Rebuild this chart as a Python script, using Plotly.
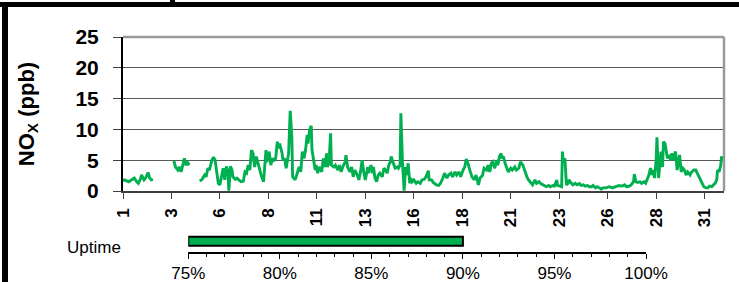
import plotly.graph_objects as go

# ---------------- data ----------------
# hour of month (0 = day 1 00:00) and NOx (ppb); None marks missing data
hours = [0, 2, 7, 11, 14, 17, 19, 22, 23, 26, 28, 31, 33, 35, 37, 38,
         63, 65, 68, 70, 72, 74, 76, 78, 80, 82, 83,
         95, 98, 101, 103, 105, 107, 110, 112, 114, 116, 118, 120, 122, 124, 126, 128, 130, 131,
         133, 135, 136, 139, 141, 144, 146, 149, 151, 153, 155, 157, 159, 161, 163, 165, 167,
         169, 171, 174, 177, 178, 181, 183, 185, 187, 189, 191, 193, 194, 197, 198, 200, 202,
         205, 207, 209, 210, 213, 215, 218, 220, 222, 224, 226, 228, 229, 231, 233, 234, 236,
         238, 239, 241, 243, 246, 248, 250, 252, 253, 255, 257, 258, 261, 263, 266, 268, 270,
         272, 275, 276, 278, 281, 283, 285, 287, 290, 292, 294, 296, 298, 300, 303, 304, 307,
         309, 310, 312, 314, 316, 318, 321, 323, 325, 327, 329, 331, 332, 334, 336, 337, 340,
         341, 343, 344, 346, 347, 348, 350, 351, 353, 355, 356, 358, 360, 363, 365, 368, 370,
         373, 375, 378, 379, 382, 384, 388, 391, 393, 396, 398, 401, 403, 406, 408, 411, 413,
         416, 418, 421, 423, 425, 427, 430, 432, 435, 437, 440, 442, 445, 447, 450, 452, 454,
         456, 458, 460, 463, 464, 466, 468, 469, 471, 473, 475, 477, 480, 482, 485, 487, 490,
         492, 495, 497, 500, 502, 505, 507, 510, 512, 515, 517, 520, 522, 524, 527, 529, 532,
         534, 537, 538, 541, 543, 544, 545, 547, 549, 551, 552, 555, 557, 560, 562, 565, 567,
         570, 572, 575, 577, 580, 582, 585, 587, 590, 592, 594, 598, 602, 606, 610, 614, 618,
         621, 623, 627, 629, 632, 633, 635, 637, 640, 642, 645, 647, 650, 651, 653, 655, 656,
         658, 660, 661, 663, 665, 666, 668, 669, 671, 673, 674, 676, 678, 679, 681, 683, 684,
         686, 688, 689, 691, 693, 695, 697, 699, 702, 704, 707, 709, 712, 714, 717, 719, 722,
         724, 726, 729, 731, 733, 735, 736, 738, 740, 741, 743]

nox = [1.7, 1.8, 1.5, 1.9, 2.1, 1.5, 1.25, 2.1, 2.6, 1.8, 2.1, 3.0, 2.1, 1.8, 1.9, None,
       4.9, 3.9, 3.4, 3.9, 3.1, 4.5, 5.3, 4.2, 4.6, 4.2, None,
       1.6, 1.9, 2.6, 2.3, 3.7, 3.4, 5.0, 5.5, 5.0, 2.9, 1.25, 1.0, 2.3, 3.7, 1.8, 4.0, 3.1, 0.05,
       4.0, 3.4, 2.3, 1.9, 2.1, 1.8, 1.5, 1.6, 3.1, 2.9, 4.2, 3.4, 6.65, 6.1, 3.9, 5.6, 4.5,
       3.4, 2.6, 1.5, 6.65, 4.7, 6.4, 4.2, 5.3, 5.0, 5.3, 8.0, 6.9, 7.7, 6.1, 5.0, 5.3, 3.7,
       6.1, 13.0, 8.8, 2.3, 1.8, 2.6, 3.9, 3.1, 6.4, 5.3, 6.65, 9.1, 7.7, 9.9, 10.6, 6.65, 4.75,
       3.4, 4.2, 2.9, 3.9, 3.1, 5.3, 3.9, 6.1, 3.9, 4.5, 9.35, 4.2, 3.9, 4.2, 3.4, 4.2, 3.1,
       3.9, 4.75, 5.8, 3.9, 3.1, 3.9, 2.3, 3.4, 2.6, 1.8, 3.1, 5.0, 3.1, 1.8, 3.9, 2.9, 4.2,
       2.9, 3.9, 2.1, 1.5, 2.6, 2.9, 2.3, 3.7, 3.4, 2.9, 4.2, 4.75, 5.6, 4.75, 4.2, 3.7, 3.9,
       3.7, 4.2, 12.6, 4.5, 1.25, 0.05, 3.9, 2.6, 4.5, 1.25, 2.1, 1.5, 1.8, 1.25, 1.5, 1.25, 1.8,
       1.9, 2.3, 3.3, 1.8, 1.8, 1.4, 1.0, 0.9, 1.25, 2.1, 2.9, 2.1, 2.6, 2.9, 2.3, 3.1, 2.6,
       3.1, 2.3, 3.4, 3.9, 5.2, 4.5, 3.1, 2.3, 1.8, 2.6, 1.0, 2.1, 2.5, 3.7, 3.4, 4.2, 3.1,
       4.5, 4.75, 3.7, 5.0, 4.2, 5.6, 6.1, 5.3, 5.6, 4.5, 3.9, 3.1, 3.7, 3.4, 3.9, 3.4, 3.7,
       4.75, 4.2, 3.4, 2.3, 1.8, 1.25, 1.0, 1.8, 1.25, 1.5, 1.2, 1.0, 0.9, 0.7, 0.9, 0.7, 0.9,
       0.8, 1.8, 0.9, 0.8, 0.7, 6.4, 4.75, 5.3, 1.0, 1.25, 1.8, 1.25, 1.0, 1.25, 1.0, 1.2, 0.9,
       1.0, 0.8, 0.9, 0.7, 0.7, 0.9, 0.5, 0.7, 0.5, 0.3, 0.5, 0.5, 0.7, 0.5, 0.7, 0.9, 0.8,
       1.0, 0.7, 0.8, 1.0, 1.5, 2.75, 1.5, 1.4, 1.5, 1.25, 1.5, 1.25, 2.1, 2.6, 3.7, 2.6, 3.4,
       2.1, 5.0, 8.7, 2.1, 5.3, 6.4, 3.9, 8.0, 7.7, 6.4, 5.3, 5.85, 5.0, 6.1, 5.0, 6.1, 6.4,
       3.4, 5.3, 5.85, 3.1, 3.7, 3.4, 2.6, 3.1, 2.6, 3.1, 3.4, 3.4, 2.6, 1.8, 1.0, 0.7, 0.5,
       0.5, 0.8, 0.7, 1.0, 1.25, 1.8, 3.4, 3.1, 4.2, 5.6, 4.9]

tick_hours = [0, 60, 120, 180, 240, 300, 360, 420, 480, 540, 600, 660, 720]
tick_labels = ["1", "3", "6", "8", "11", "13", "16", "18", "21", "23", "26", "28", "31"]
y_ticks = [0, 5, 10, 15, 20, 25]

uptime_label = "Uptime"
uptime_pct = 90.0
uptime_axis_start = 75
uptime_axis_end = 100
uptime_ticks = [75, 80, 85, 90, 95, 100]
uptime_tick_labels = ["75%", "80%", "85%", "90%", "95%", "100%"]

# ---------------- layout geometry (pixels) ----------------
W, H = 739, 282
L, R, T, B = 123, 15, 37, 30
PW, PH = W - L - R, H - T - B


def px(x):
    return (x - L) / PW


def py(y):
    return (H - B - y) / PH


GREEN = "#00B050"
FONT = "Arial, Liberation Sans, sans-serif"

fig = go.Figure()

fig.add_trace(go.Scatter(
    x=hours, y=nox, mode="lines", connectgaps=False,
    line=dict(color=GREEN, width=2.9), xaxis="x", yaxis="y",
    showlegend=False, hoverinfo="skip"))

fig.add_trace(go.Bar(
    x=[uptime_pct - uptime_axis_start], base=[uptime_axis_start], y=[0.49],
    orientation="h", width=0.41, xaxis="x2", yaxis="y2",
    marker=dict(color=GREEN, line=dict(color="black", width=2)),
    showlegend=False, hoverinfo="skip"))

main_bottom = py(191)

fig.update_layout(
    width=W, height=H,
    margin=dict(l=L, r=R, t=T, b=B, pad=0, autoexpand=False),
    paper_bgcolor="white", plot_bgcolor="rgba(0,0,0,0)",
    font=dict(family=FONT, color="black"),
    xaxis=dict(
        domain=[0, 1], anchor="y", range=[0, 744], automargin=False,
        tickmode="array", tickvals=tick_hours, ticktext=tick_labels,
        tickangle=-90, tickfont=dict(size=17, weight="bold"),
        ticks="outside", ticklen=6, tickcolor="#404040", tickwidth=1,
        ticklabelstandoff=3,
        showline=True, linecolor="#404040", linewidth=1.5,
        showgrid=False, zeroline=False, fixedrange=True),
    yaxis=dict(
        domain=[main_bottom, 1], anchor="x", range=[0, 25], automargin=False,
        tickmode="array", tickvals=y_ticks,
        tickfont=dict(size=21, weight="bold"),
        ticks="outside", ticklen=8, tickcolor="#404040", tickwidth=1,
        ticklabelstandoff=10,
        showline=True, linecolor="black", linewidth=2,
        showgrid=True, gridcolor="#595959", gridwidth=1,
        zeroline=False,
        title=dict(text="NO<sub>X</sub> (ppb)", font=dict(size=22, weight="bold"),
                   standoff=35)),
    xaxis2=dict(
        domain=[px(188.3), px(646)], anchor="y2", automargin=False,
        range=[uptime_axis_start, uptime_axis_end],
        tickmode="array", tickvals=uptime_ticks, ticktext=uptime_tick_labels,
        tickfont=dict(size=17),
        ticks="outside", ticklen=5, tickcolor="black", tickwidth=1,
        minor=dict(dtick=1, ticks="outside", ticklen=3, tickcolor="black", tickwidth=1),
        ticklabelstandoff=0,
        showline=True, linecolor="black", linewidth=1.5,
        showgrid=False, zeroline=False),
    xaxis3=dict(
        overlaying="x2", anchor="y2", side="bottom", automargin=False,
        range=[uptime_axis_start, uptime_axis_end],
        tickmode="array", tickvals=uptime_ticks, showticklabels=False,
        ticks="inside", ticklen=4, tickcolor="black", tickwidth=1,
        showline=False, showgrid=False, zeroline=False),
    yaxis2=dict(domain=[0, py(230)], anchor="x2", range=[0, 1], visible=False),
    bargap=0,
)

# plot-area frame: gray top and right border
fig.add_shape(type="line", xref="x domain", yref="y domain", x0=0, x1=1, y0=1, y1=1,
              line=dict(color="#9a9a9a", width=2.5))
fig.add_shape(type="line", xref="x domain", yref="y domain", x0=1, x1=1, y0=0, y1=1,
              line=dict(color="#9a9a9a", width=2.5))

# outer black page frame (top and left), partially visible
fig.add_shape(type="rect", xref="paper", yref="paper",
              x0=px(0), x1=px(W), y0=py(7), y1=py(2),
              line=dict(width=0), fillcolor="black", layer="above")
fig.add_shape(type="rect", xref="paper", yref="paper",
              x0=px(2), x1=px(8), y0=py(H), y1=py(2),
              line=dict(width=0), fillcolor="black", layer="above")
fig.add_shape(type="rect", xref="paper", yref="paper",
              x0=px(170), x1=px(175), y0=py(2), y1=py(0),
              line=dict(width=0), fillcolor="black", layer="above")

fig.add_annotation(text=uptime_label, xref="paper", yref="paper",
                   x=px(94), y=py(247), showarrow=False,
                   font=dict(size=17, family=FONT, color="black"),
                   xanchor="center", yanchor="middle")

fig.write_html(
    "out.html",
    config={"displayModeBar": False, "staticPlot": True},
    post_script="document.body.style.margin='0';document.body.style.padding='0';"
                "document.body.style.overflow='hidden';",
)
